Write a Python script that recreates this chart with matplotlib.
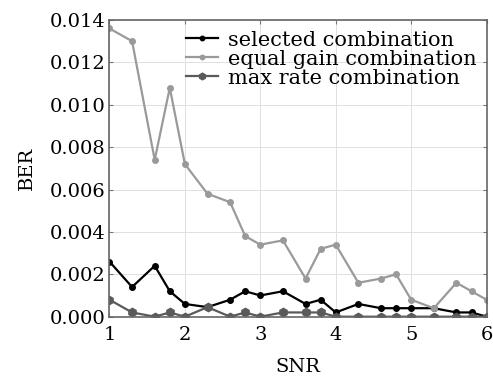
import matplotlib.pyplot as plt
from matplotlib.ticker import FormatStrFormatter

snr = [1.0, 1.3, 1.6, 1.8, 2.0, 2.3, 2.6, 2.8, 3.0, 3.3, 3.6, 3.8, 4.0,
       4.3, 4.6, 4.8, 5.0, 5.3, 5.6, 5.8, 6.0]

selected = [0.0026, 0.0014, 0.0024, 0.0012, 0.0006, 0.00045, 0.0008, 0.0012,
            0.0010, 0.0012, 0.0006, 0.0008, 0.0002, 0.0006, 0.0004, 0.0004,
            0.0004, 0.0004, 0.0002, 0.0002, 0.0]
equal_gain = [0.0136, 0.0130, 0.0074, 0.0108, 0.0072, 0.0058, 0.0054, 0.0038,
              0.0034, 0.0036, 0.0018, 0.0032, 0.0034, 0.0016, 0.0018, 0.0020,
              0.0008, 0.0004, 0.0016, 0.0012, 0.0008]
max_rate = [0.0008, 0.0002, 0.0, 0.0002, 0.0, 0.00045, 0.0, 0.0002, 0.0,
            0.0002, 0.0002, 0.0002, 0.0, 0.0, 0.0, 0.0, 0.0, 0.0, 0.0, 0.0, 0.0]

plt.rcParams['font.family'] = ['DejaVu Serif']
plt.rcParams['font.size'] = 14

fig = plt.figure(figsize=(4.93, 3.77), dpi=100)
ax = fig.add_axes([0.222, 0.16, 0.765, 0.787])

ax.plot(snr, selected, "-o", color="black", lw=1.6, ms=4,
        label="selected combination")
ax.plot(snr, equal_gain, "-o", color="#9a9a9a", lw=1.6, ms=4,
        label="equal gain combination")
ax.plot(snr, max_rate, "-h", color="#5a5a5a", lw=1.6, ms=6,
        label="max rate combination")

ax.set_xlim(1, 6)
ax.set_ylim(0, 0.014)
ax.set_xticks([1, 2, 3, 4, 5, 6])
ax.set_yticks([0, 0.002, 0.004, 0.006, 0.008, 0.010, 0.012, 0.014])
ax.yaxis.set_major_formatter(FormatStrFormatter('%.3f'))
ax.tick_params(direction='in', top=True, right=True, length=3,
               color='#777777', labelsize=14, pad=3)
ax.tick_params(axis='x', pad=7)

ax.grid(True, color='#e0e0e0', linestyle='-', linewidth=0.7)
for s in ax.spines.values():
    s.set_color('#666666')
    s.set_linewidth(1.2)

ax.set_xlabel("SNR", fontsize=14, labelpad=10)
ax.set_ylabel("BER", fontsize=14, labelpad=10)

ax.legend(loc="upper right", bbox_to_anchor=(0.99, 0.985), frameon=False,
          fontsize=15, handlelength=1.5, borderaxespad=0.0, borderpad=0.3,
          labelspacing=0.0, handletextpad=0.5, markerscale=0.8)

fig.savefig("out.png", dpi=100)
